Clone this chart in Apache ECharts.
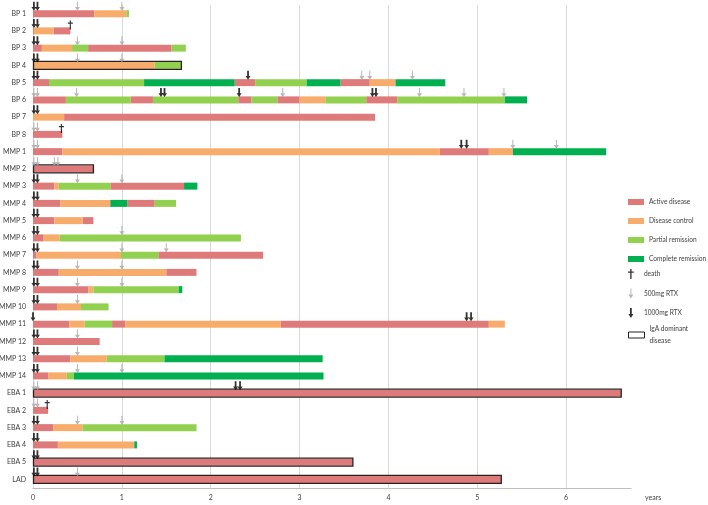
<!DOCTYPE html>
<html><head><meta charset="utf-8">
<script src="https://cdn.jsdelivr.net/npm/echarts@6/dist/echarts.min.js"></script>
<style>html,body{margin:0;padding:0;background:#fff}#c{width:708px;height:505px}</style>
</head><body><div id="c"></div>
<script>
const categories = ['BP 1','BP 2','BP 3','BP 4','BP 5','BP 6','BP 7','BP 8','MMP 1','MMP 2','MMP 3','MMP 4','MMP 5','MMP 6','MMP 7','MMP 8','MMP 9','MMP 10','MMP 11','MMP 12','MMP 13','MMP 14','EBA 1','EBA 2','EBA 3','EBA 4','EBA 5','LAD'];
const stateNames = ['Active disease','Disease control','Partial remission','Complete remission'];
const stateColors = ['#DF7A7A','#F8AC6C','#92D050','#00B050'];
// per row: [state, end year] (state 0=active,1=control,2=partial,3=complete)
const segments = [
  [[0,0.69],[1,1.05],[2,1.08]],
  [[0,0.01],[1,0.23],[0,0.42]],
  [[0,0.10],[1,0.44],[2,0.62],[0,1.56],[2,1.72]],
  [[1,1.37],[2,1.67]],
  [[0,0.18],[2,1.25],[3,2.27],[0,2.50],[2,3.08],[3,3.46],[0,3.79],[1,4.08],[3,4.64]],
  [[0,0.37],[2,1.10],[0,1.35],[2,2.31],[0,2.46],[2,2.75],[0,3.00],[1,3.29],[2,3.75],[0,4.10],[2,5.31],[3,5.56]],
  [[1,0.35],[0,3.85]],
  [[0,0.33]],
  [[0,0.33],[1,4.58],[0,5.13],[1,5.40],[3,6.45]],
  [[0,0.68]],
  [[0,0.24],[1,0.29],[2,0.87],[0,1.70],[3,1.85]],
  [[0,0.31],[1,0.87],[3,1.06],[0,1.37],[2,1.61]],
  [[0,0.24],[1,0.56],[0,0.68]],
  [[0,0.12],[1,0.30],[2,2.34]],
  [[0,0.04],[1,0.99],[2,1.41],[0,2.59]],
  [[0,0.29],[1,1.50],[0,1.84]],
  [[0,0.62],[1,0.68],[2,1.64],[3,1.68]],
  [[0,0.27],[1,0.54],[2,0.85]],
  [[0,0.41],[1,0.58],[2,0.89],[0,1.04],[1,2.79],[0,5.13],[1,5.31]],
  [[0,0.75]],
  [[0,0.42],[1,0.83],[2,1.48],[3,3.26]],
  [[0,0.17],[1,0.38],[2,0.46],[3,3.27]],
  [[0,6.62]],
  [[0,0.17]],
  [[0,0.23],[1,0.56],[2,1.84]],
  [[0,0.28],[1,1.14],[3,1.17]],
  [[0,3.60]],
  [[0,5.27]]
];
const igaRows = ['BP 4','MMP 2','EBA 1','EBA 5','LAD'];
// [category, year]
const rtx500 = [
  ['BP 1',0.5],['BP 1',1.0],['BP 3',0.5],['BP 3',1.0],['BP 4',0.5],['BP 4',1.0],
  ['BP 5',3.70],['BP 5',3.79],['BP 5',4.27],
  ['BP 6',0.01],['BP 6',0.05],['BP 6',0.49],['BP 6',2.81],['BP 6',4.35],['BP 6',4.85],['BP 6',5.30],
  ['BP 8',0.01],['BP 8',0.05],
  ['MMP 1',0.01],['MMP 1',0.05],['MMP 1',5.40],['MMP 1',5.89],
  ['MMP 2',0.01],['MMP 2',0.05],['MMP 2',0.24],['MMP 2',0.28],
  ['MMP 3',0.5],['MMP 3',1.0],['MMP 6',1.0],['MMP 7',1.0],['MMP 7',1.5],
  ['MMP 8',0.5],['MMP 8',1.0],['MMP 9',0.5],['MMP 9',1.0],['MMP 10',0.5],
  ['MMP 12',0.5],['MMP 13',0.5],['MMP 14',0.5],['MMP 14',1.0],
  ['EBA 1',0.01],['EBA 1',0.05],['EBA 2',0.01],['EBA 2',0.05],
  ['EBA 3',0.5],['EBA 3',1.0],['LAD',0.5]
];
const rtx1000 = [
  ['BP 1',0.01],['BP 1',0.05],['BP 2',0.01],['BP 2',0.05],['BP 3',0.01],['BP 3',0.05],
  ['BP 4',0.01],['BP 4',0.05],['BP 5',0.01],['BP 5',0.05],['BP 5',2.42],
  ['BP 6',1.44],['BP 6',1.48],['BP 6',2.32],['BP 6',3.82],['BP 6',3.86],
  ['BP 7',0.01],['BP 7',0.05],['MMP 1',4.82],['MMP 1',4.88],
  ['MMP 3',0.01],['MMP 3',0.05],['MMP 4',0.01],['MMP 4',0.05],['MMP 5',0.01],['MMP 5',0.05],
  ['MMP 6',0.01],['MMP 6',0.05],['MMP 7',0.01],['MMP 7',0.05],['MMP 8',0.01],['MMP 8',0.05],
  ['MMP 9',0.01],['MMP 9',0.05],['MMP 10',0.01],['MMP 10',0.05],
  ['MMP 11',0.0],['MMP 11',4.88],['MMP 11',4.93],
  ['MMP 12',0.01],['MMP 12',0.05],['MMP 13',0.01],['MMP 13',0.05],['MMP 14',0.01],['MMP 14',0.05],
  ['EBA 1',2.28],['EBA 1',2.33],['EBA 3',0.01],['EBA 3',0.05],['EBA 4',0.01],['EBA 4',0.05],
  ['EBA 5',0.01],['EBA 5',0.05],['LAD',0.01],['LAD',0.05]
];
const deaths = [['BP 2',0.42],['BP 8',0.32],['EBA 2',0.16]];
const xTicks = [0,1,2,3,4,5,6];

const FONT = 'Lato';
const FS = 7;
const LFS = 6.6;
const arrowPath = 'path://M1.6,0 L3.4,0 L3.4,6 L5,6 L2.5,10 L0,6 L1.6,6 Z';
const arrowThin = 'path://M2,0 L3,0 L3,6 L5,6 L2.5,10 L0,6 L2,6 Z';
const daggerPath = 'path://M2,0 L3.2,0 L3.2,2.2 L5.2,2.2 L5.2,3.4 L3.2,3.4 L3.2,9 L2,9 L2,3.4 L0,3.4 L0,2.2 L2,2.2 Z';

const stateData = stateNames.map(() => []);
segments.forEach((row, r) => {
  let s = 0;
  row.forEach(([st, e]) => { stateData[st].push([s, e, r]); s = e; });
});
const igaData = igaRows.map(c => {
  const r = categories.indexOf(c);
  const row = segments[r];
  return [0, row[row.length - 1][1], r];
});
const toPt = arr => arr.map(([c, x]) => [x, categories.indexOf(c)]);

function segRender(params, api) {
  const p0 = api.coord([api.value(0), api.value(2)]);
  const p1 = api.coord([api.value(1), api.value(2)]);
  const h = 7;
  return { type: 'rect', shape: { x: p0[0], y: p0[1] - h / 2, width: p1[0] - p0[0], height: h },
    style: { fill: api.visual('color') } };
}
function igaRender(params, api) {
  const p0 = api.coord([api.value(0), api.value(2)]);
  const p1 = api.coord([api.value(1), api.value(2)]);
  const h = 8;
  return { type: 'rect', shape: { x: p0[0] + 0.5, y: p0[1] - h / 2, width: p1[0] - p0[0] - 0.5, height: h },
    style: { fill: 'none', stroke: '#2a2222', lineWidth: 1.3 } };
}

const series = stateNames.map((n, i) => ({
  name: n, type: 'custom', renderItem: segRender, itemStyle: { color: stateColors[i] },
  encode: { x: [0, 1], y: 2 }, data: stateData[i], z: 2
}));
series.push({ name: 'IgA dominant disease', type: 'custom', renderItem: igaRender,
  itemStyle: { color: '#ffffff', borderColor: '#222', borderWidth: 1 },
  encode: { x: [0, 1], y: 2 }, data: igaData, z: 3 });
series.push({ name: 'death', type: 'scatter', symbol: daggerPath, symbolSize: [5, 9], symbolOffset: [0, -6],
  itemStyle: { color: '#000' }, data: toPt(deaths), z: 5, clip: false, silent: true });
series.push({ name: '500mg RTX', type: 'scatter', symbol: arrowThin, symbolSize: [5, 9], symbolOffset: [0, -7.5],
  itemStyle: { color: '#A5A5A5' }, data: toPt(rtx500), z: 5, clip: false, silent: true });
series.push({ name: '1000mg RTX', type: 'scatter', symbol: arrowPath, symbolSize: [5, 9], symbolOffset: [0, -7.5],
  itemStyle: { color: '#000' }, data: toPt(rtx1000), z: 6, clip: false, silent: true });

const txt = { fontFamily: FONT, fontSize: LFS, color: '#404040', lineHeight: 10 };
const chart = echarts.init(document.getElementById('c'), null, { renderer: 'canvas' });
chart.setOption({
  animation: false,
  backgroundColor: '#fff',
  grid: { left: 33, right: 77, top: 5, bottom: 17, containLabel: false, outerBoundsMode: 'none' },
  xAxis: {
    type: 'value', min: 0, max: 6.73, interval: 1,
    name: 'years', nameLocation: 'end', nameGap: 14,
    nameTextStyle: { fontFamily: FONT, fontSize: FS, color: '#404040', verticalAlign: 'top', padding: [6, 0, 0, 0] },
    axisLine: { show: true, lineStyle: { color: '#BFBFBF', width: 1 } },
    axisTick: { show: false },
    axisLabel: { fontFamily: FONT, fontSize: FS, color: '#404040', margin: 6, showMaxLabel: false,
      formatter: v => xTicks.includes(v) ? String(v) : '' },
    splitLine: { show: true, showMaxLine: false, lineStyle: { color: '#D9D9D9', width: 1 } }
  },
  yAxis: {
    type: 'category', data: categories, inverse: true,
    axisLine: { show: false }, axisTick: { show: false }, splitLine: { show: false },
    axisLabel: { fontFamily: FONT, fontSize: FS, color: '#404040', margin: 7 }
  },
  legend: [
    { orient: 'vertical', left: 623, top: 192, itemWidth: 16, itemHeight: 6, itemGap: 9,
      textStyle: txt, selectedMode: false,
      data: stateNames.map(n => ({ name: n, icon: 'rect' })) },
    { orient: 'vertical', left: 623, top: 264, itemWidth: 16, itemHeight: 10, itemGap: 9.5,
      textStyle: txt, selectedMode: false,
      data: [{ name: 'death', icon: daggerPath }, { name: '500mg RTX', icon: arrowThin }, { name: '1000mg RTX', icon: arrowPath }] },
    { orient: 'vertical', left: 623, top: 318, itemWidth: 16, itemHeight: 6, itemGap: 9,
      textStyle: { fontFamily: FONT, fontSize: LFS, color: '#404040', lineHeight: 12 }, selectedMode: false,
      formatter: n => n === 'IgA dominant disease' ? 'IgA dominant\ndisease' : n,
      data: [{ name: 'IgA dominant disease', icon: 'rect',
        itemStyle: { color: '#ffffff', borderColor: '#222', borderWidth: 1 } }] }
  ],
  series: series
});
</script></body></html>
